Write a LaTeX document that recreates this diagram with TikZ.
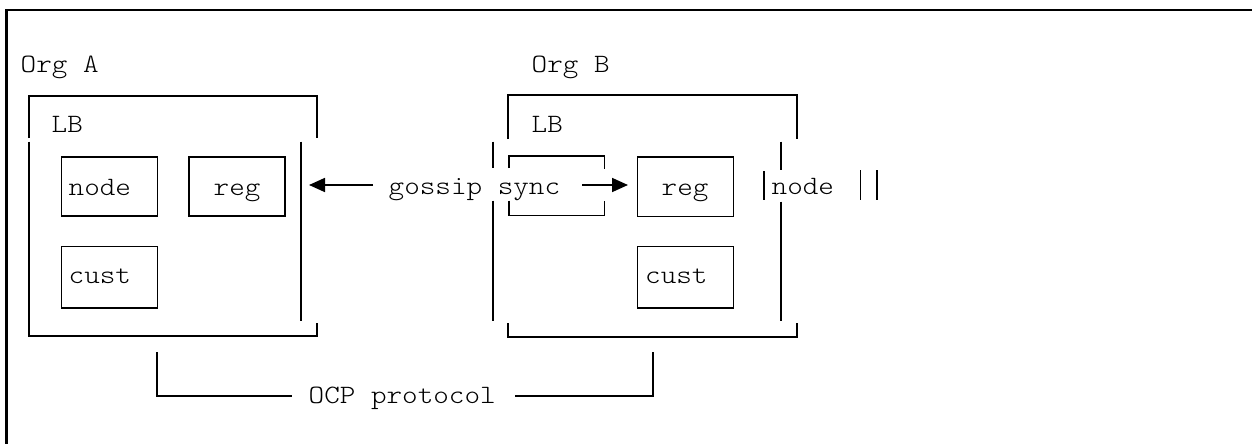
\documentclass[tikz,border=0pt]{standalone}
\usepackage{fontspec}
\newfontfamily\cour{lmmonolt10-regular.otf}[FakeStretch=1.12]
\usetikzlibrary{arrows.meta}
\begin{document}
\begin{tikzpicture}[x=1pt,y=-1pt,
  ln/.style={line width=1.7pt, line cap=butt, line join=miter},
  frame/.style={line width=2.6pt},
  txt/.style={anchor=base west, inner sep=0pt, font=\cour\fontsize{26.5}{30}\selectfont},
  boxnode/.style={draw, line width=1.7pt, inner sep=0pt, anchor=north west},
  arr/.style={line width=1.7pt, -{Triangle[length=16pt,width=14pt]}}]
\useasboundingbox (0,0) rectangle (1252,444);
% outer frame (top and left)
\draw[frame] (6.5,444) -- (6.5,10) -- (1252,10);

% ---------- Org A ----------
\node[txt] (orgA) at (20.5,72) {Org A};
\node[txt] (lbA) at (51.5,132) {LB};
\draw[ln] (29,138) -- (29,96) -- (317,96) -- (317,138);
\draw[ln] (29,141.5) -- (29,336) -- (317,336) -- (317,323);
\coordinate (innerAtop) at (301,141.5);
\coordinate (innerAbot) at (301,321);
\draw[ln] (innerAtop) -- (innerAbot);

\node[boxnode, minimum width=96pt, minimum height=59pt] (nodeA) at (60.7,156) {};
\node[txt] (nodeAt) at (68.5,195) {node};
\node[boxnode, minimum width=96pt, minimum height=59pt] (regA) at (188.3,156) {};
\node[txt] (regAt) at (213.5,195) {reg};
\node[boxnode, minimum width=96pt, minimum height=61.6pt] (custA) at (60.7,245.7) {};
\node[txt] (custAt) at (68.5,283) {cust};

% ---------- gossip sync ----------
\node[txt] (gossip) at (388.5,194) {gossip sync};
\coordinate (tipA) at (309,185);
\draw[arr] (373,185) coordinate (gl) (gl) -- (tipA);

% ---------- Org B ----------
\node[txt] (orgB) at (531.5,72) {Org B};
\node[txt] (lbB) at (531.5,132) {LB};
\draw[ln] (508.3,139) -- (508.3,95) -- (796.7,95) -- (796.7,139);
\draw[ln] (508.3,323) -- (508.3,336.7) -- (796.7,336.7) -- (796.7,323);
\draw[ln] (492.7,141.7) -- (492.7,168);
\draw[ln] (492.7,200.5) -- (492.7,321);
\draw[ln] (781,141.7) -- (781,170);
\draw[ln] (781,201.7) -- (781,321);
% sync bracket box
\draw[ln] (508.8,168) -- (508.8,156) -- (604.5,156) -- (604.5,169);
\draw[ln] (508.8,200.5) -- (508.8,215.5) -- (604.5,215.5) -- (604.5,200.5);

\node[boxnode, minimum width=96pt, minimum height=59.7pt] (regB) at (636.7,156) {};
\node[txt] (regBt) at (661.5,195) {reg};
\node[boxnode, minimum width=96pt, minimum height=61.6pt] (custB) at (636.7,245.7) {};
\node[txt] (custBt) at (645,283) {cust};

\coordinate (tipB) at (628,185);
\draw[arr] (582,185) coordinate (gr) (gr) -- (tipB);

% |node ||
\draw[ln] (764,171) -- (764,200);
\node[txt] (nodeBt) at (771.5,194) {node};
\draw[ln] (860.5,170) -- (860.5,200);
\draw[ln] (876.7,170) -- (876.7,200);

% ---------- OCP protocol ----------
\node[txt] (ocp) at (308.5,403) {OCP protocol};
\coordinate (ocpL) at (156.7,352);
\coordinate (ocpR) at (653,352);
\draw[ln] (ocpL) -- (156.7,396) -- (292,396);
\draw[ln] (515,396) -- (653,396) -- (ocpR);
\end{tikzpicture}
\end{document}
